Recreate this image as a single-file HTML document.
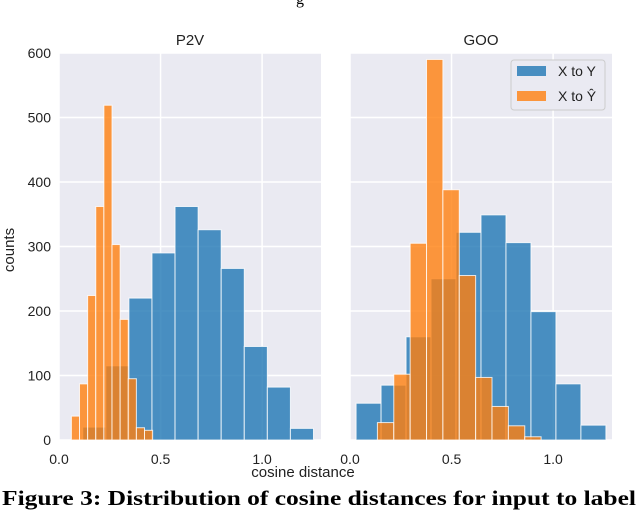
<!DOCTYPE html>
<html><head><meta charset="utf-8"><style>
body{margin:0;background:#fff;width:640px;height:511px;overflow:hidden}
svg text{font-family:"Liberation Sans",sans-serif}
svg text.serif{font-family:"Liberation Serif",serif}
</style></head><body>
<svg width="640" height="511" viewBox="0 0 640 511" id="fig">
<text class="serif" x="300" y="4" font-size="16" text-anchor="middle" fill="#000" style="font-family:'Liberation Serif',serif">g</text>
<g id="left"></g>
<g id="right"></g>
<text x="14" y="250" font-size="15" text-anchor="middle" transform="rotate(-90 14 250)" fill="#222">counts</text>
<text x="303" y="477" font-size="15" text-anchor="middle" fill="#222">cosine distance</text>
<text class="serif" x="2" y="505" font-weight="bold" font-size="21" textLength="634" lengthAdjust="spacingAndGlyphs" fill="#000" style="font-family:'Liberation Serif',serif">Figure 3: Distribution of cosine distances for input to label</text>
<g>
<rect x="511" y="60" width="94" height="50" rx="3" fill="#eaeaf2" stroke="#ccc"/>
<rect x="517" y="66" width="29" height="10" fill="#1f77b4" fill-opacity="0.8"/>
<text x="558" y="76" font-size="14" fill="#222">X to Y</text>
<rect x="517" y="91" width="29" height="10" fill="#ff7f0e" fill-opacity="0.8"/>
<text x="558" y="101" font-size="14" fill="#222">X to Ŷ</text>
</g>
</svg>
<script>
const yTicks=[0,100,200,300,400,500,600];
const xTicks=[0.0,0.5,1.0];
const p2vBlueStart=0.117, p2vBlueWidth=0.1136;
const p2vBlue=[20,115,220,290,362,326,266,145,82,18];
const p2vOrangeStart=0.061, p2vOrangeWidth=0.04;
const p2vOrange=[37,87,224,362,519,303,187,95,19,15];
const gooBlueStart=0.03, gooBlueWidth=0.123;
const gooBlue=[57,85,160,250,322,349,306,199,87,23];
const gooOrangeStart=0.135, gooOrangeWidth=0.0806;
const gooOrange=[27,102,305,590,388,255,97,52,22,5];
const NS="http://www.w3.org/2000/svg";
function mk(tag,attrs,parent){const e=document.createElementNS(NS,tag);for(const k in attrs)e.setAttribute(k,attrs[k]);parent.appendChild(e);return e;}
function panel(g,x0,x1,title,showY,series){
  const top=53,bot=440,xmax=1.29;
  const sx=v=>x0+v/xmax*(x1-x0);
  const sy=v=>bot-v/600*(bot-top);
  const bg=mk('rect',{x:x0,y:top,width:x1-x0,height:bot-top,fill:'#eaeaf2'},g);
  
  
  yTicks.forEach(t=>{const l=mk('line',{x1:x0,x2:x1,y1:sy(t),y2:sy(t),stroke:'#fff','stroke-width':1.5},g);
    
    
    if(showY){const tx=mk('text',{x:x0-8,y:sy(t)+5,'font-size':14,'text-anchor':'end',fill:'#222'},g);tx.textContent=t;
      
      }});
  xTicks.forEach(t=>{const l=mk('line',{x1:sx(t),x2:sx(t),y1:top,y2:bot,stroke:'#fff','stroke-width':1.5},g);
    
    
    const tx=mk('text',{x:sx(t),y:464,'font-size':14,'text-anchor':'middle',fill:'#222'},g);tx.textContent=t.toFixed(1);
    
    });
  series.forEach(s=>{s.vals.forEach((v,i)=>{const a=sx(s.start+i*s.w),b=sx(s.start+(i+1)*s.w);
    const r=mk('rect',{x:a,y:sy(v),width:b-a,height:bot-sy(v),fill:s.color,'fill-opacity':0.8,stroke:'#fff','stroke-width':1,'stroke-opacity':0.8},g);
    
    });});
  const tt=mk('text',{x:(x0+x1)/2,y:45,'font-size':15,'text-anchor':'middle',fill:'#222'},g);tt.textContent=title;
  
  
}
panel(document.getElementById('left'),59,321,'P2V',true,[
 {vals:p2vBlue,start:p2vBlueStart,w:p2vBlueWidth,color:'#1f77b4',name:'x-to-y'},
 {vals:p2vOrange,start:p2vOrangeStart,w:p2vOrangeWidth,color:'#ff7f0e',name:'x-to-yhat'}]);
panel(document.getElementById('right'),350,612,'GOO',false,[
 {vals:gooBlue,start:gooBlueStart,w:gooBlueWidth,color:'#1f77b4',name:'x-to-y'},
 {vals:gooOrange,start:gooOrangeStart,w:gooOrangeWidth,color:'#ff7f0e',name:'x-to-yhat'}]);
</script>
</body></html>
